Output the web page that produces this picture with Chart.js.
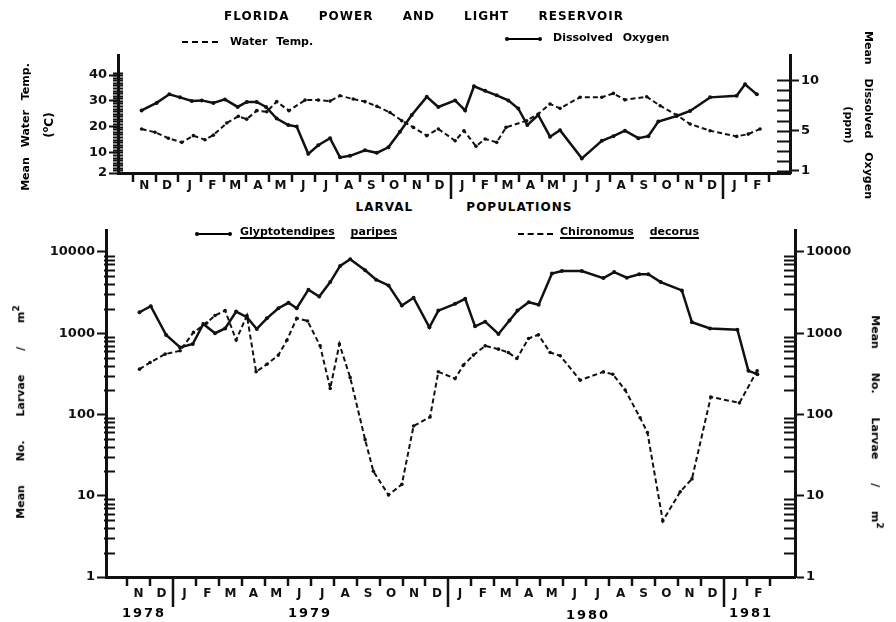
<!DOCTYPE html>
<html>
<head>
<meta charset="utf-8">
<title>Florida Power and Light Reservoir</title>
<script src="https://cdn.jsdelivr.net/npm/chart.js@4.4.1/dist/chart.umd.min.js"></script>
<style>
  html, body { margin:0; padding:0; background:#fff; }
  #page { position:relative; width:896px; height:622px; overflow:hidden; font-family:"DejaVu Sans", sans-serif; color:#000; }
  .box { position:absolute; left:0; width:896px; }
  .t { position:absolute; font-weight:bold; white-space:nowrap; line-height:1; }
  .c { transform:translate(-50%,-50%); }
  .up { transform:translate(-50%,-50%) rotate(-90deg); }
  .down { transform:translate(-50%,-50%) rotate(90deg); }
  .u { text-decoration:underline; text-decoration-thickness:2px; text-underline-offset:2px; }
  .dash { position:absolute; height:0; border-top:2px dashed #000; }
  .solid { position:absolute; height:0; border-top:2px solid #000; }
  .dot { position:absolute; width:4px; height:4px; border-radius:50%; background:#000; }
</style>
</head>
<body>
<div id="page">
  <div class="box" style="top:0;height:200px"><canvas id="topChart" width="896" height="200"></canvas></div>
  <div class="box" style="top:215px;height:407px"><canvas id="larvaChart" width="896" height="407"></canvas></div>

  <!-- titre + légendes -->
  <div class="t c" style="left:424px;top:16px;font-size:12px;letter-spacing:1px;word-spacing:24px">FLORIDA POWER AND LIGHT RESERVOIR</div>

  <div class="dash" style="left:182px;top:41px;width:36px"></div>
  <div class="t" style="left:230px;top:36px;font-size:11px;word-spacing:5px">Water Temp.</div>
  <div class="solid" style="left:507px;top:38px;width:33px"></div>
  <div class="dot" style="left:505px;top:37px"></div>
  <div class="dot" style="left:538px;top:37px"></div>
  <div class="t" style="left:553px;top:32px;font-size:11px;word-spacing:6px">Dissolved Oxygen</div>

  <div class="t c" style="left:464px;top:207px;font-size:12px;letter-spacing:1px;word-spacing:48px">LARVAL POPULATIONS</div>

  <div class="solid" style="left:197px;top:233px;width:33px"></div>
  <div class="dot" style="left:195px;top:232px"></div>
  <div class="dot" style="left:228px;top:232px"></div>
  <div class="t" style="left:240px;top:226px;font-size:11px;word-spacing:12px"><span class="u">Glyptotendipes</span> <span class="u">paripes</span></div>
  <div class="dash" style="left:518px;top:233px;width:35px"></div>
  <div class="t" style="left:560px;top:226px;font-size:11px;word-spacing:12px"><span class="u">Chironomus</span> <span class="u">decorus</span></div>

  <!-- titres d'axes -->
  <div class="t up" style="left:25px;top:127px;font-size:11px;word-spacing:6px">Mean Water Temp.</div>
  <div class="t up" style="left:48px;top:125px;font-size:12px">(<sup style="font-size:8px">o</sup>C)</div>
  <div class="t down" style="left:868px;top:115px;font-size:11px;word-spacing:10px">Mean Dissolved Oxygen</div>
  <div class="t down" style="left:848px;top:125px;font-size:11px">(ppm)</div>

  <div class="t up" style="left:19px;top:412px;font-size:11px;word-spacing:20px">Mean No. Larvae / m<sup style="font-size:9px">2</sup></div>
  <div class="t down" style="left:877px;top:422px;font-size:11px;word-spacing:20px">Mean No. Larvae / m<sup style="font-size:9px">2</sup></div>

  <!-- années -->
  <div class="t c" style="left:144px;top:612px;font-size:13px;letter-spacing:2px">1978</div>
  <div class="t c" style="left:310px;top:612px;font-size:13px;letter-spacing:2px">1979</div>
  <div class="t c" style="left:588px;top:614px;font-size:13px;letter-spacing:2px">1980</div>
  <div class="t c" style="left:751px;top:612px;font-size:13px;letter-spacing:2px">1981</div>
</div>

<script>
// Mois de Nov 1978 à Fév 1981 ; x = mois écoulés depuis le 1er nov 1978
const monthLabels = ['N','D','J','F','M','A','M','J','J','A','S','O','N','D',
                     'J','F','M','A','M','J','J','A','S','O','N','D','J','F'];

// Température moyenne de l'eau (°C)
const tempMonth = [0.38,0.97,1.56,2.15,2.66,3.17,3.54,4.13,4.64,5.01,5.45,5.89,6.33,6.87,7.58,8.16,
                   8.68,9.12,9.70,10.22,10.74,11.32,11.84,12.35,12.94,13.45,14.19,14.58,15.11,15.51,16.02,16.43,
                   17.34,17.85,18.37,18.81,19.69,20.65,21.16,21.67,22.63,23.22,23.95,24.54,25.42,26.59,27.10,27.62];
const tempValue = [19.1,17.8,15.5,13.9,16.5,14.9,16.7,21.4,24.0,22.9,26.2,25.8,29.7,26.2,30.3,30.3,
                   29.9,32.0,30.7,29.7,27.9,25.5,22.3,19.7,16.5,19.1,14.5,18.4,12.4,15.2,13.9,19.7,
                   22.3,24.9,28.8,27.1,31.4,31.4,32.9,30.4,31.6,28.1,24.5,21.0,18.4,16.2,17.1,19.1];

// Oxygène dissous moyen (ppm)
const oxyMonth = [0.38,1.04,1.60,2.07,2.59,3.03,3.54,4.05,4.61,5.01,5.45,5.86,6.33,6.84,7.21,7.72,8.16,
                  8.68,9.12,9.56,10.22,10.74,11.25,11.76,12.28,12.94,13.45,14.19,14.63,15.02,15.51,16.02,16.53,
                  16.97,17.37,17.85,18.37,18.81,19.77,20.65,21.16,21.67,22.26,22.70,23.14,23.95,24.54,25.42,
                  26.59,26.96,27.48];
const oxyValue = [7.0,7.75,8.6,8.3,7.95,8.0,7.75,8.1,7.35,7.85,7.85,7.35,6.2,5.55,5.4,2.7,3.55,
                  4.25,2.35,2.5,3.05,2.8,3.35,4.9,6.55,8.35,7.35,8.0,7.0,9.4,8.95,8.5,8.0,
                  7.2,5.55,6.55,4.4,5.05,2.25,4.0,4.45,5.0,4.25,4.45,5.9,6.45,6.95,8.3,
                  8.45,9.6,8.6];

// Larves / m2 — Glyptotendipes paripes
const glypMonth = [0.54,1.03,1.70,2.31,2.86,3.32,3.83,4.27,4.75,5.22,5.65,6.09,6.59,7.03,7.39,7.90,8.37,
                   8.85,9.28,9.72,10.37,10.85,11.39,11.97,12.48,13.17,13.56,14.29,14.73,15.16,15.60,16.18,16.66,
                   17.01,17.50,17.93,18.51,18.94,19.81,20.75,21.22,21.77,22.31,22.71,23.25,24.17,24.61,25.40,
                   26.59,27.07,27.46];
const glypValue = [1808,2150,950,667,735,1300,1000,1145,1845,1570,1127,1525,2030,2366,2030,3430,2830,
                   4255,6715,8130,5945,4550,3870,2190,2730,1180,1895,2296,2650,1213,1387,978,1430,
                   1895,2405,2233,5405,5825,5825,4760,5650,4820,5300,5300,4255,3360,1362,1145,
                   1104,344,313];

// Larves / m2 — Chironomus decorus
const chirMonth = [0.54,1.00,1.66,2.31,2.89,3.47,3.83,4.27,4.75,5.22,5.62,6.09,6.59,6.96,7.39,7.86,8.41,
                   8.85,9.25,9.72,10.37,10.73,11.39,11.97,12.48,13.20,13.56,14.29,14.65,15.09,15.60,16.18,16.61,
                   16.98,17.49,17.92,18.43,18.87,19.74,20.75,21.16,21.70,22.35,22.67,23.34,24.10,24.61,25.43,
                   26.68,27.45];
const chirValue = [361,435,553,607,1023,1337,1650,1897,824,1650,335,415,537,818,1525,1415,698,
                   209,735,284,49,20,10.2,13.8,72,93,335,276,404,537,698,636,578,
                   487,861,957,578,527,264,334,313,200,91,60,4.9,11.2,16.1,164,
                   139,345];

const tempTicks = [2, 10, 20, 30, 40];
const oxyTicks = [1, 5, 10];
const larvaTicks = [1, 10, 100, 1000, 10000];

const pairs = (xs, ys) => xs.map((x, i) => ({ x, y: ys[i] }));
const INK = '#111';
const FONT = '"DejaVu Sans", sans-serif';

// petits traits : limites de mois sur x, graduations secondaires sur y
const axisMarks = {
  id: 'axisMarks',
  afterDraw(chart, args, opts) {
    const ctx = chart.ctx;
    const { left, right, bottom } = chart.chartArea;
    const x = chart.scales.x;
    ctx.save();
    ctx.strokeStyle = INK;
    ctx.lineWidth = 2.5;
    for (let m = 0; m <= monthLabels.length; m++) {
      const px = Math.round(x.getPixelForValue(m));
      const len = opts.yearTicks.includes(m) ? opts.longTick : opts.shortTick;
      ctx.beginPath(); ctx.moveTo(px, bottom); ctx.lineTo(px, bottom + len); ctx.stroke();
    }
    ctx.lineWidth = 2;
    opts.minor.forEach(set => {
      const s = chart.scales[set.axis];
      const ax = set.side === 'left' ? left : right;
      const dir = set.side === 'left' ? 1 : -1;
      set.values.forEach(v => {
        const py = Math.round(s.getPixelForValue(v)) + 0.5;
        ctx.beginPath();
        ctx.moveTo(ax - dir * set.outer, py);
        ctx.lineTo(ax + dir * set.inner, py);
        ctx.stroke();
      });
    });
    ctx.restore();
  }
};

function monthAxis(min, max, height, pad) {
  return {
    type: 'linear', min, max,
    afterBuildTicks: s => { s.ticks = monthLabels.map((_, i) => ({ value: i + 0.5 })); },
    afterFit: s => { s.height = height; },
    ticks: { callback: (v, i) => monthLabels[i], autoSkip: false, maxRotation: 0, padding: pad,
             color: INK, font: { family: FONT, size: 12, weight: 'bold' } },
    grid: { display: false },
    border: { display: true, color: INK, width: 3 }
  };
}

function valueAxis(pos, opts) {
  return Object.assign({
    position: pos,
    afterFit: s => { s.width = opts.w; },
    ticks: { callback: v => String(v), padding: 2, color: INK, font: { family: FONT, size: 13, weight: 'bold' } },
    grid: { drawOnChartArea: false, drawTicks: true, tickLength: 9, tickWidth: 2, tickColor: INK },
    border: { display: true, color: INK, width: 3 }
  }, opts.extra);
}

const ints = (a, b) => { const r = []; for (let i = a; i <= b; i++) r.push(i); return r; };
const logMinor = [];
[1, 10, 100, 1000].forEach(d => { for (let k = 2; k <= 9; k++) logMinor.push(d * k); });

const solid = { borderColor: INK, borderWidth: 2.5, pointRadius: 2, pointBackgroundColor: INK, pointBorderWidth: 0, tension: 0 };
const dashed = { borderColor: INK, borderWidth: 2, borderDash: [5, 3], pointRadius: 1.8, pointBackgroundColor: INK, pointBorderWidth: 0, tension: 0 };

// ── Température et oxygène ──
new Chart(document.getElementById('topChart'), {
  type: 'line',
  data: {
    datasets: [
      Object.assign({ label: 'Water Temp.', data: pairs(tempMonth, tempValue), yAxisID: 'y' }, dashed),
      Object.assign({ label: 'Dissolved Oxygen', data: pairs(oxyMonth, oxyValue), yAxisID: 'y2' }, solid)
    ]
  },
  options: {
    responsive: false, animation: false, devicePixelRatio: 1,
    layout: { padding: { top: 55, left: 0, right: 0, bottom: 0 }, autoPadding: false },
    plugins: {
      legend: { display: false }, tooltip: { enabled: false },
      axisMarks: {
        yearTicks: [14, 26], shortTick: 9, longTick: 26,
        minor: [
          { axis: 'y', side: 'left', values: ints(3, 41), inner: 5, outer: 5 },
          { axis: 'y2', side: 'right', values: ints(1, 10), inner: 13, outer: 0 }
        ]
      }
    },
    scales: {
      x: monthAxis(-0.66, 28.94, 27, -2),
      y: valueAxis('left', { w: 118, extra: { min: 2, max: 47.8,
           afterBuildTicks: s => { s.ticks = tempTicks.map(v => ({ value: v })); } } }),
      y2: valueAxis('right', { w: 106, extra: { min: 0.8, max: 12.5,
           afterBuildTicks: s => { s.ticks = oxyTicks.map(v => ({ value: v })); } } })
    }
  },
  plugins: [axisMarks]
});

// ── Populations larvaires ──
new Chart(document.getElementById('larvaChart'), {
  type: 'line',
  data: {
    datasets: [
      Object.assign({ label: 'Glyptotendipes paripes', data: pairs(glypMonth, glypValue), yAxisID: 'y' }, solid),
      Object.assign({ label: 'Chironomus decorus', data: pairs(chirMonth, chirValue), yAxisID: 'y' }, dashed)
    ]
  },
  options: {
    responsive: false, animation: false, devicePixelRatio: 1,
    layout: { padding: { top: 15, left: 0, right: 0, bottom: 0 }, autoPadding: false },
    plugins: {
      legend: { display: false }, tooltip: { enabled: false },
      axisMarks: {
        yearTicks: [2, 14, 26], shortTick: 9, longTick: 30,
        minor: [
          { axis: 'y', side: 'left', values: logMinor, inner: 9, outer: 2 },
          { axis: 'y2', side: 'right', values: logMinor, inner: 11, outer: 0 }
        ]
      }
    },
    scales: {
      x: monthAxis(-0.92, 29.1, 45, 2),
      y: valueAxis('left', { w: 106, extra: { type: 'logarithmic', min: 1, max: 18600,
           afterBuildTicks: s => { s.ticks = larvaTicks.map(v => ({ value: v })); } } }),
      y2: valueAxis('right', { w: 101, extra: { type: 'logarithmic', min: 1, max: 18600,
           afterBuildTicks: s => { s.ticks = larvaTicks.map(v => ({ value: v })); } } })
    }
  },
  plugins: [axisMarks]
});
</script>
</body>
</html>
